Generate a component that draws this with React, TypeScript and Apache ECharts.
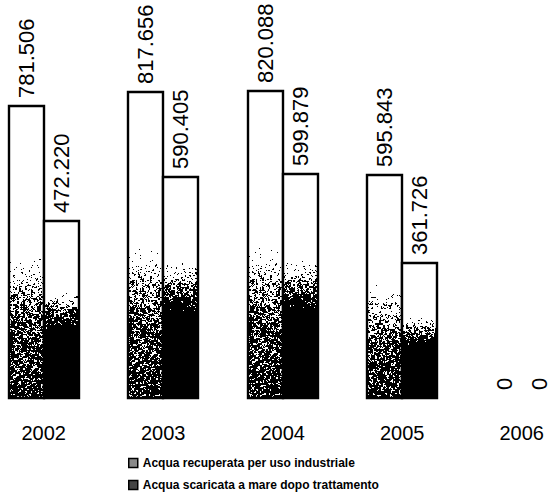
import React, { useEffect, useRef } from "react";
import * as echarts from "echarts";

// Anni e volumi d'acqua (m³)
const years = ["2002", "2003", "2004", "2005", "2006"];
const recuperata = [781506, 817656, 820088, 595843, 0];
const scaricata = [472220, 590405, 599879, 361726, 0];
const seriesNames = [
  "Acqua recuperata per uso industriale",
  "Acqua scaricata a mare dopo trattamento",
];

const fmt = (v: number) =>
  String(Math.round(v)).replace(/\B(?=(\d{3})+(?!\d))/g, ".");

const FONT = "Liberation Sans, Arial, sans-serif";
const BAR_RATIO = 35 / 119.5; // larghezza di una barra rispetto alla banda

// Deterministic hash used for the stippled fill
const hash = (x: number, y: number, s: number) => {
  const v = Math.sin(x * 12.9898 + y * 78.233 + s * 37.719) * 43758.5453;
  return v - Math.floor(v);
};

// Darkness along the bar height (t = 0 top, 1 bottom)
const profiles = [
  (t: number) =>
    t < 0.48 ? 0 : t < 0.72 ? ((t - 0.48) / 0.24) * 0.58 : 0.58 + ((t - 0.72) / 0.28) * 0.14,
  (t: number) => (t < 0.38 ? 0 : t < 0.62 ? (t - 0.38) / 0.24 : 1),
];

const texCache: Record<string, string> = {};
function stippleTexture(kind: number, w: number, h: number): string {
  const key = kind + "_" + w + "_" + h;
  if (texCache[key]) return texCache[key];
  const c = document.createElement("canvas");
  c.width = w;
  c.height = h;
  const ctx = c.getContext("2d")!;
  const img = ctx.createImageData(w, h);
  for (let y = 0; y < h; y++) {
    const d = profiles[kind](y / h);
    for (let x = 0; x < w; x++) {
      const n =
        0.45 * hash(x, y, kind + 1) +
        0.55 * hash(Math.floor(x / 2), Math.floor(y / 2), kind + 7);
      const black = n < d;
      const k = (y * w + x) * 4;
      const g = black ? 0 : 255;
      img.data[k] = g;
      img.data[k + 1] = g;
      img.data[k + 2] = g;
      img.data[k + 3] = 255;
    }
  }
  ctx.putImageData(img, 0, 0);
  const url = c.toDataURL();
  texCache[key] = url;
  return url;
}

const makeRenderItem = (kind: number) => (params: any, api: any) => {
  const idx = api.value(0);
  const val = api.value(1);
  const base = api.coord([idx, 0]);
  const top = api.coord([idx, val]);
  const band = api.size([1, 0])[0];
  const bw = Math.round(band * BAR_RATIO);
  const x = Math.round(kind === 0 ? base[0] - bw : base[0]);
  const y = Math.round(top[1]);
  const h = Math.round(base[1]) - y;
  const children: any[] = [];
  if (h > 0) {
    children.push({
      type: "image",
      style: { image: stippleTexture(kind, bw, h), x, y, width: bw, height: h },
    });
    children.push({
      type: "rect",
      shape: { x, y, width: bw, height: h },
      style: { fill: "none", stroke: "#000", lineWidth: 2.4 },
    });
  }
  children.push({
    type: "text",
    x: x + bw / 2,
    y: y - 8,
    rotation: Math.PI / 2,
    style: {
      text: fmt(val),
      font: "22px " + FONT,
      fill: "#000",
      align: "left",
      verticalAlign: "middle",
    },
  });
  return { type: "group", children };
};

const legendBase = (name: string, top: number, fill: string) => ({
  orient: "horizontal",
  left: 123,
  top,
  itemWidth: 9,
  itemHeight: 9,
  itemGap: 5,
  textStyle: {
    fontSize: 12,
    fontWeight: "bold",
    fontFamily: FONT,
    color: "#000",
  },
  data: [
    {
      name,
      icon: "rect",
      itemStyle: { color: fill, borderColor: "#000", borderWidth: 1.5 },
    },
  ],
});

export default function App() {
  const ref = useRef<HTMLDivElement>(null);
  useEffect(() => {
    document.body.style.margin = "0";
    const chart = echarts.init(ref.current!, null, { renderer: "svg" });
    chart.setOption({
      animation: false,
      backgroundColor: "#fff",
      grid: {
        left: -16,
        width: 597.5,
        top: 24,
        bottom: 96,
        containLabel: false,
        outerBoundsMode: "none",
      },
      xAxis: {
        type: "category",
        data: years,
        axisLine: { show: false },
        axisTick: { show: false },
        axisLabel: {
          color: "#000",
          fontSize: 20,
          fontFamily: FONT,
          margin: 25,
        },
      },
      yAxis: {
        type: "value",
        min: 0,
        max: 1000000,
        show: false,
        splitLine: { show: false },
      },
      legend: [
        legendBase(seriesNames[0], 452, "#8a8a8a"),
        legendBase(seriesNames[1], 474, "#444"),
      ],
      series: [
        {
          name: seriesNames[0],
          type: "custom",
          renderItem: makeRenderItem(0),
          encode: { x: 0, y: 1 },
          data: recuperata.map((v, i) => [i, v]),
        },
        {
          name: seriesNames[1],
          type: "custom",
          renderItem: makeRenderItem(1),
          encode: { x: 0, y: 1 },
          data: scaricata.map((v, i) => [i, v]),
        },
      ],
    });
    return () => chart.dispose();
  }, []);
  return <div ref={ref} style={{ width: 551, height: 494 }} />;
}
